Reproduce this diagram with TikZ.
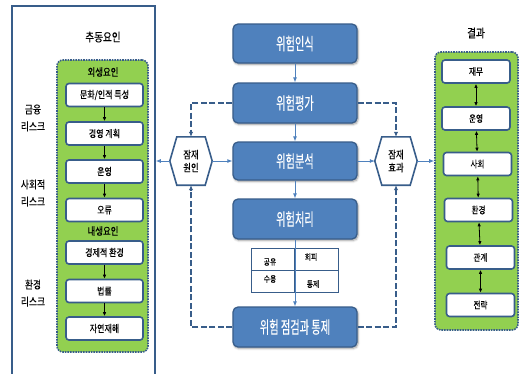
\documentclass[tikz,border=0pt]{standalone}
\usepackage{fontspec}
\setmainfont{Noto Sans CJK KR}[FakeStretch=0.8,FakeBold=0.2]
\newfontfamily\krc{Noto Sans CJK KR}[FakeStretch=0.6,FakeBold=0.2]
\newfontfamily\krh{Noto Sans CJK KR}[FakeStretch=0.8,FakeBold=0.5]
\usetikzlibrary{arrows.meta,shadows.blur,calc}
\definecolor{dblue}{HTML}{385D8A}
\definecolor{mblue}{HTML}{4F81BD}
\definecolor{lgreen}{HTML}{92D050}
\begin{document}
\begin{tikzpicture}[x=1pt,y=-1pt,
  proc/.style={draw=dblue, line width=1.3pt, fill=mblue, rounded corners=5pt,
    minimum width=124pt, minimum height=39pt, text=white, inner sep=0pt,
    font=\krc\fontsize{17}{19}\selectfont,
    blur shadow={shadow xshift=1pt, shadow yshift=-1.5pt, shadow blur steps=5}},
  ibox/.style={draw=dblue, line width=1.6pt, fill=white, rounded corners=3pt,
    minimum width=77pt, minimum height=23pt, inner sep=0pt, font=\fontsize{10}{11}\selectfont},
  rbox/.style={draw=dblue, line width=1.6pt, fill=white, rounded corners=3pt,
    minimum width=68pt, minimum height=23pt, inner sep=0pt, font=\fontsize{9.5}{11}\selectfont},
  gbox/.style={draw=dblue, densely dotted, line width=1.6pt, fill=lgreen, rounded corners=6pt, inner sep=0pt},
  hexbox/.style={minimum width=42pt, minimum height=48pt, inner sep=0pt, align=center, font=\fontsize{10.5}{13}\selectfont},
  hexline/.style={draw=dblue, line width=1.6pt, fill=white},
  dline/.style={draw=dblue, line width=1.8pt, dash pattern=on 6pt off 2.5pt, -{Latex[length=5pt,width=4.5pt]}},
  larrow/.style={draw=mblue, line width=0.8pt, -{Latex[length=5pt,width=4pt]}},
  barrow/.style={draw=black, line width=0.8pt, -{Latex[length=4pt,width=3.5pt]}},
  dbarrow/.style={draw=black, line width=0.8pt, {Latex[length=4pt,width=3.5pt]}-{Latex[length=4pt,width=3.5pt]}},
  cell/.style={draw=dblue, line width=0.8pt, minimum width=43.5pt, minimum height=22pt, inner sep=0pt},
  ctext/.style={font=\fontsize{8.5}{10}\selectfont, inner sep=0pt},
  ltext/.style={align=center, font=\fontsize{11}{17}\selectfont},
  htext/.style={font=\krh\fontsize{12}{13}\selectfont, inner sep=0pt},
  subt/.style={font=\fontsize{10.5}{12}\selectfont, inner sep=0pt}
]
\useasboundingbox (0,0) rectangle (520,373);

% left frame
\draw[draw=dblue, line width=1.5pt] (12,380) -- (12,6) -- (155,6) -- (155,380);
\node[htext] (tl) at (103,37) {추동요인};
\node[ltext] (l1) at (33,118) {금융\\리스크};
\node[ltext] (l2) at (33,193) {사회적\\리스크};
\node[ltext] (l3) at (33,293) {환경\\리스크};

% left green box
\node[gbox, minimum width=91pt, minimum height=292pt] (gL) at (102.5,206) {};
\node[subt] (ex) at (103,72) {외생요인};
\node[ibox] (a1) at (104.5,95) {문화/인적 특성};
\node[ibox] (a2) at (104.5,133.5) {경영 계획};
\node[ibox] (a3) at (104.5,171.5) {운영};
\node[ibox] (a4) at (104.5,210) {오류};
\node[subt] (en) at (103,231) {내생요인};
\node[ibox] (a5) at (104.5,252.5) {경제적 환경};
\node[ibox] (a6) at (104.5,291) {법률};
\node[ibox] (a7) at (104.5,328.5) {자연재해};
\draw[barrow] (a1) -- (a2);
\draw[barrow] (a2) -- (a3);
\draw[barrow] (a3) -- (a4);
\draw[barrow] (a5) -- (a6);
\draw[barrow] (a6) -- (a7);

% right green box
\node[htext] (tr) at (476,33) {결과};
\node[gbox, minimum width=83pt, minimum height=278pt] (gR) at (476.5,191) {};
\node[rbox] (b1) at (476,71.5) {재무};
\node[rbox] (b2) at (476,118.5) {운영};
\node[rbox] (b3) at (477.5,164) {사회};
\node[rbox] (b4) at (478.5,210) {환경};
\node[rbox] (b5) at (480.5,257.5) {관계};
\node[rbox] (b6) at (480.5,305) {전략};
\draw[dbarrow] (b1) -- (b2);
\draw[dbarrow] (b2) -- (b3);
\draw[dbarrow] (b3) -- (b4);
\draw[dbarrow] (b4) -- (b5);
\draw[dbarrow] (b5) -- (b6);

% center process
\node[proc] (ri) at (295,43.5) {위험인식};
\node[proc, minimum height=40pt] (rp) at (295,103) {위험평가};
\node[proc, minimum height=38pt] (ra) at (295,161) {위험분석};
\node[proc, minimum height=40pt] (rt) at (295,219) {위험처리};
\node[proc, minimum height=40pt] (rc) at (295,327) {위험 점검과 통제};

% table
\node[cell] (t1) at (272.75,259) {};
\node[cell] (t2) at (316.25,259) {};
\node[cell] (t3) at (272.75,281) {};
\node[cell] (t4) at (316.25,281) {};
\node[ctext] at (270,262) {공유};
\node[ctext] at (311,257) {회피};
\node[ctext] at (270,279) {수용};
\node[ctext] at (313,284) {통제};

\draw[larrow] (ri) -- (rp);
\draw[larrow] (rp) -- (ra);
\draw[larrow] (ra) -- (rt);
\draw[larrow] (rt) -- (rc);

% hexagons
\node[hexbox] (pc) at (191,161) {};
\draw[hexline] ($(pc.north west)+(7,0)$) -- ($(pc.north east)+(-7,0)$) -- (pc.east)
  -- ($(pc.south east)+(-7,0)$) -- ($(pc.south west)+(7,0)$) -- (pc.west) -- cycle;
\node[hexbox] at (pc) {잠재\\원인};
\node[hexbox] (pe) at (396,161) {};
\draw[hexline] ($(pe.north west)+(7,0)$) -- ($(pe.north east)+(-7,0)$) -- (pe.east)
  -- ($(pe.south east)+(-7,0)$) -- ($(pe.south west)+(7,0)$) -- (pe.west) -- cycle;
\node[hexbox] at (pe) {잠재\\효과};

\coordinate (lr) at (155.8,161);
\draw[larrow] (pc.west) -- (lr);
\draw[larrow] (pc.east) -- (ra.west);
\draw[larrow] (ra.east) -- (pe.west);
\draw[larrow] (pe.east) -- (pe.east -| gR.west);

% dashed feedback
\draw[dline] (rp.west) -| (pc.north);
\draw[dline] (rp.east) -| (pe.north);
\draw[dline] (rc.west) -| (pc.south);
\draw[dline] (rc.east) -| (pe.south);
\end{tikzpicture}
\end{document}
